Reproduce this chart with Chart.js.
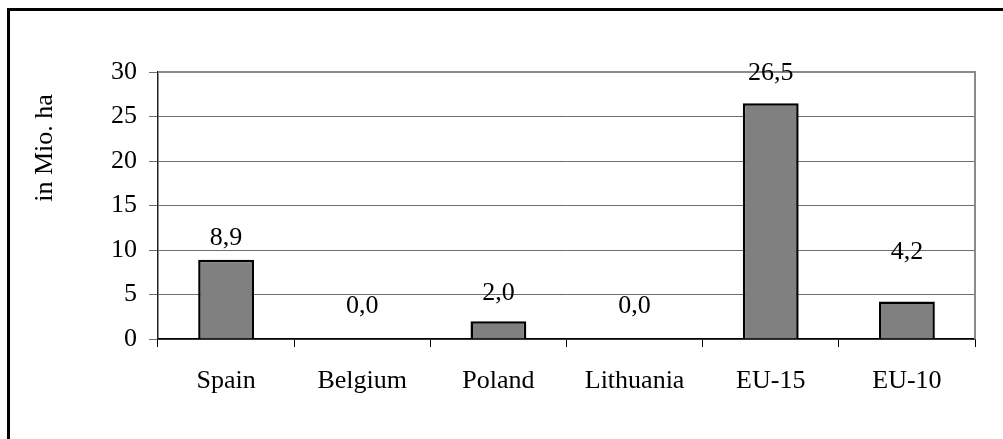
<!DOCTYPE html>
<html>
<head>
<meta charset="utf-8">
<title>in Mio. ha</title>
<script src="https://cdn.jsdelivr.net/npm/chart.js@4.4.1/dist/chart.umd.min.js"></script>
<style>
  html, body { margin: 0; padding: 0; background: #fff; overflow: hidden; }
  #frame { position: absolute; left: 7px; top: 8px; width: 1100px; height: 600px;
           border-left: 3px solid #000; border-top: 3px solid #000; }
  #chart { position: absolute; left: 0; top: 0; }
</style>
</head>
<body>
<div id="frame"></div>
<canvas id="chart" width="1003" height="439"></canvas>
<script>
const countries = ['Spain', 'Belgium', 'Poland', 'Lithuania', 'EU-15', 'EU-10'];
const areaMioHa = [8.9, 0.0, 2.0, 0.0, 26.5, 4.2];
const yTicks = [0, 5, 10, 15, 20, 25, 30];

const FONT = { family: '"Liberation Serif", "Times New Roman", serif', size: 26 };

// how far above each bar top its value label sits (px)
const labelLift = [22, 33, 28, 33, 30, 49];

const valueLabels = {
  id: 'valueLabels',
  afterDatasetsDraw(chart) {
    const ctx = chart.ctx;
    const bars = chart.getDatasetMeta(0).data;
    ctx.save();
    ctx.font = FONT.size + 'px ' + FONT.family;
    ctx.fillStyle = '#000';
    ctx.textAlign = 'center';
    ctx.textBaseline = 'middle';
    bars.forEach((bar, i) => {
      const txt = areaMioHa[i].toFixed(1).replace('.', ',');
      ctx.fillText(txt, bar.x, bar.y - labelLift[i]);
    });
    ctx.restore();
  }
};

// grey frame on top and right of the plot area, plus the rotated unit title
const plotFrame = {
  id: 'plotFrame',
  beforeDatasetsDraw(chart) {
    const { ctx, chartArea: a } = chart;
    ctx.save();
    ctx.strokeStyle = '#8a8a8a';
    ctx.lineWidth = 2;
    ctx.beginPath();
    ctx.moveTo(a.left, a.top);
    ctx.lineTo(a.right, a.top);
    ctx.lineTo(a.right, a.bottom);
    ctx.stroke();
    ctx.restore();
  },
  afterDraw(chart) {
    const ctx = chart.ctx;
    ctx.save();
    ctx.font = FONT.size + 'px ' + FONT.family;
    ctx.fillStyle = '#000';
    ctx.textAlign = 'center';
    ctx.textBaseline = 'middle';
    ctx.translate(45, 148);
    ctx.rotate(-Math.PI / 2);
    ctx.fillText('in Mio. ha', 0, 0);
    ctx.restore();
  }
};

new Chart(document.getElementById('chart'), {
  type: 'bar',
  data: {
    labels: countries,
    datasets: [{
      data: areaMioHa,
      backgroundColor: '#808080',
      borderColor: '#000',
      borderWidth: 2.5,
      categoryPercentage: 1,
      barPercentage: 0.41
    }]
  },
  options: {
    responsive: false,
    animation: false,
    layout: { padding: { left: 0, top: 72, right: 28, bottom: 0 } },
    plugins: {
      legend: { display: false },
      tooltip: { enabled: false }
    },
    scales: {
      x: {
        afterFit(scale) { scale.height = 100; },
        grid: {
          offset: true,
          drawOnChartArea: false,
          drawTicks: true,
          tickLength: 8,
          color: '#000',
          lineWidth: 1
        },
        border: { color: '#000', width: 1.5 },
        ticks: {
          color: '#000',
          font: FONT,
          padding: 19,
          maxRotation: 0,
          autoSkip: false
        }
      },
      y: {
        min: 0,
        max: 30,
        afterFit(scale) { scale.width = 158; },
        afterBuildTicks(scale) { scale.ticks = yTicks.map(v => ({ value: v })); },
        grid: {
          color: '#6e6e6e',
          lineWidth: 1,
          tickLength: 9
        },
        border: { color: '#222', width: 1.5 },
        ticks: {
          color: '#000',
          font: FONT,
          padding: 12
        }
      }
    }
  },
  plugins: [plotFrame, valueLabels]
});
</script>
</body>
</html>
